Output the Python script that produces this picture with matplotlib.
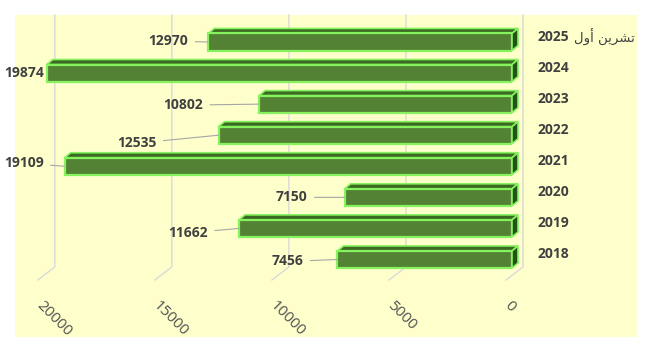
import numpy as np
import matplotlib
matplotlib.use("Agg")
import matplotlib.pyplot as plt
from matplotlib.patches import Rectangle, Polygon
from matplotlib.lines import Line2D
from matplotlib.transforms import IdentityTransform

plt.rcParams['font.family'] = ['Open Sans', 'DejaVu Sans']

# data (top row first)
# "تشرين أول 2025" written in visual order with Arabic presentation forms
categories = ['2025 \uFEDD\uFEED\uFE83 \uFEE6\uFEF3\uFEAE\uFEB8\uFE97',
              '2024', '2023', '2022', '2021', '2020', '2019', '2018']
values = [12970, 19874, 10802, 12535, 19109, 7150, 11662, 7456]
x_ticks = [0, 5000, 10000, 15000, 20000]

# label offsets in pixels (dx, dy; dy positive = down)
label_dx = [-20, -3, -56, -62, -21, -37, -31, -34]
label_dy = [-1, 0, 1, 8, -3, 0, 4.5, 2]

W, H = 652, 352
front = '#548235'
top_col = '#3B6A22'
side_col = '#24501A'
edge = '#86F25E'
bg = '#FFFFCC'

fig = plt.figure(figsize=(W / 100, H / 100), dpi=100)
fig.patch.set_facecolor('white')
fig.patches.append(Rectangle((15 / W, (H - 337) / H), 622 / W, 322 / H,
                             transform=fig.transFigure, facecolor=bg,
                             edgecolor='none', zorder=-10))

ax = fig.add_axes([43.8 / W, (H - 290) / H, (512 - 43.8) / W, (290 - 15) / H])
ax.set_facecolor('none')
for s in ax.spines.values():
    s.set_visible(False)

rows = np.arange(len(values))
ax.set_xlim(20000, 0)
ax.set_ylim((290 - 42) / 31.07, (15 - 42) / 31.07)

bh = 0.55
ax.barh(rows, values, height=bh, color=front, edgecolor=edge,
        linewidth=1.6, zorder=4)

# depth offset of the 3D bars, in data units
inv = ax.transData.inverted()
o = ax.transData.transform((0, 0))
ddx, ddy = inv.transform((o[0] + 6, o[1] + 5)) - inv.transform(o)

for r, v in zip(rows, values):
    t = r - bh / 2
    b = r + bh / 2
    ax.add_patch(Polygon([(v, t), (0, t), (ddx, t + ddy), (v + ddx, t + ddy)],
                         closed=True, facecolor=top_col, edgecolor=edge,
                         linewidth=1.2, zorder=3, clip_on=False))
    ax.add_patch(Polygon([(0, t), (0, b), (ddx, b + ddy), (ddx, t + ddy)],
                         closed=True, facecolor=side_col, edgecolor=edge,
                         linewidth=1.2, zorder=3, clip_on=False))

# back-wall gridlines with floor (drawn below the axes)
for tv in x_ticks:
    xf = ax.transData.transform((tv, 0))[0]
    xs = [xf + 11, xf + 11, xf - 6]
    ys = [H - 15, H - 267, H - 280]
    fig.add_artist(Line2D(xs, ys, transform=IdentityTransform(),
                          color='#D9D9D9', linewidth=1, zorder=-5))

# data labels with leader lines
for r, v, dx, dy in zip(rows, values, label_dx, label_dy):
    arrow = None
    if abs(dx) > 8:
        arrow = dict(arrowstyle='-', color='#A6A6A6', lw=0.8,
                     shrinkA=3, shrinkB=0)
    ax.annotate(str(v), xy=(v, r), xytext=(dx, -dy),
                textcoords='offset pixels', ha='right', va='center',
                fontsize=10, fontweight='bold', color='#404040',
                arrowprops=arrow, zorder=5, annotation_clip=False)

ax.set_xticks(x_ticks)
ax.set_xticklabels([str(t) for t in x_ticks])
ax.tick_params(axis='x', length=0, pad=5.8, labelsize=11,
               labelcolor='#505050')
for lab in ax.get_xticklabels():
    lab.set_rotation(-45)
    lab.set_ha('left')
    lab.set_va('top')
    lab.set_rotation_mode('anchor')

# first category: year in bold, month name in regular weight after it
year0, month0 = categories[0].split(' ', 1)
ax.yaxis.tick_right()
ax.set_yticks(rows - 0.21)
ax.set_yticklabels([year0] + categories[1:])
ax.tick_params(axis='y', length=0, pad=18.7, labelsize=10,
               labelcolor='#404040')
for lab in ax.get_yticklabels():
    lab.set_fontweight('bold')

ax.annotate(month0, xy=(1, 0.5), xycoords=ax.get_yticklabels()[0],
            xytext=(4, 0), textcoords='offset pixels', ha='left',
            va='center', fontsize=9.5, family='DejaVu Sans',
            color='#404040', annotation_clip=False)

fig.savefig('out.png', dpi=100)
